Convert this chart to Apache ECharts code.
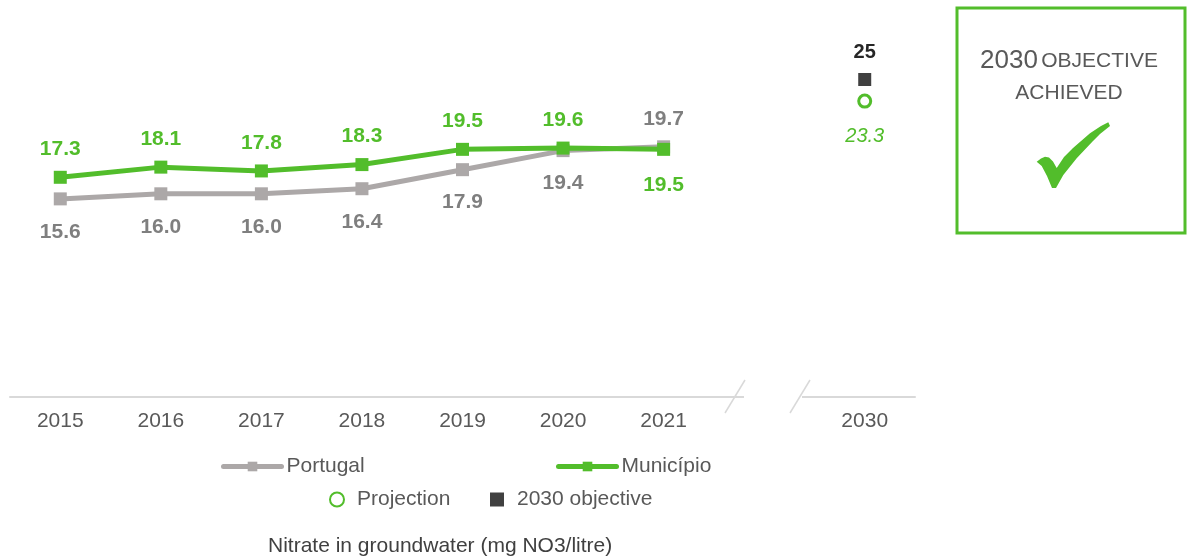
<!DOCTYPE html>
<html>
<head>
<meta charset="utf-8">
<script src="https://cdn.jsdelivr.net/npm/echarts@6/dist/echarts.min.js"></script>
<style>html,body{margin:0;padding:0;background:#fff}#c{width:1187px;height:560px}</style>
</head>
<body>
<div id="c"></div>
<script>
const years = ['2015','2016','2017','2018','2019','2020','2021','','2030'];
const portugal = [15.6, 16.0, 16.0, 16.4, 17.9, 19.4, 19.7, null, null];
const municipio = [17.3, 18.1, 17.8, 18.3, 19.5, 19.6, 19.5, null, null];
const projection = [['2030', 23.3]];
const objective = [['2030', 25]];

const GREEN = '#52BD2B';
const GRAY_LINE = '#ACA8A8';
const GRAY_LABEL = '#7F7F7F';
const FONT = "'Liberation Sans', Arial, sans-serif";

function withLabels(vals, other, distTop, distBottom) {
  return vals.map((v, i) => {
    if (v == null) return v;
    const above = v >= other[i];
    return { value: v, label: { position: above ? 'top' : 'bottom', distance: above ? distTop : distBottom } };
  });
}

const legendText = { color: '#595959', fontSize: 21, fontFamily: FONT };

const chart = echarts.init(document.getElementById('c'));
chart.setOption({
  animation: false,
  textStyle: { fontFamily: FONT },
  grid: { left: 10, right: 272, top: 16, bottom: 163, containLabel: false },
  xAxis: {
    type: 'category', data: years, boundaryGap: true,
    axisTick: { show: false },
    axisLine: { lineStyle: { color: '#D9D9D9', width: 2 } },
    axisLabel: { color: '#595959', fontSize: 21, margin: 14, fontFamily: FONT }
  },
  yAxis: { type: 'value', min: 0, max: 30, show: false, splitLine: { show: false } },
  legend: [
    { data: ['Portugal'], left: 216, top: 451, padding: 5, itemWidth: 58, itemHeight: 12, textStyle: legendText, lineStyle: { width: 5, cap: 'round' } },
    { data: ['Município'], left: 551, top: 451, padding: 5, itemWidth: 58, itemHeight: 12, textStyle: legendText, lineStyle: { width: 5, cap: 'round' } },
    { data: ['Projection'], left: 324, top: 484, padding: 5, itemWidth: 14, itemHeight: 14, textStyle: Object.assign({ padding: [0, 0, 0, 8] }, legendText) },
    { data: ['2030 objective'], left: 485, top: 484, padding: 5, itemWidth: 14, itemHeight: 14, textStyle: Object.assign({ padding: [0, 0, 0, 8] }, legendText) }
  ],
  title: {
    text: 'Nitrate in groundwater (mg NO3/litre)', left: 263, top: 531,
    textStyle: { color: '#404040', fontSize: 21, fontWeight: 'normal', fontFamily: FONT }
  },
  series: [
    {
      name: 'Portugal', type: 'line', data: withLabels(portugal, municipio, 11, 16),
      symbol: 'rect', symbolSize: 13, z: 2,
      lineStyle: { color: GRAY_LINE, width: 5 },
      itemStyle: { color: GRAY_LINE },
      label: { show: true, color: GRAY_LABEL, fontSize: 21, fontWeight: 'bold', fontFamily: FONT, formatter: p => p.value.toFixed(1) }
    },
    {
      name: 'Município', type: 'line', data: withLabels(municipio, portugal, 11, 19),
      symbol: 'rect', symbolSize: 13, z: 3,
      lineStyle: { color: GREEN, width: 5 },
      itemStyle: { color: GREEN },
      label: { show: true, color: GREEN, fontSize: 21, fontWeight: 'bold', fontFamily: FONT, formatter: p => p.value.toFixed(1) }
    },
    {
      name: 'Projection', type: 'scatter', data: projection,
      symbol: 'circle', symbolSize: 12,
      itemStyle: { color: '#fff', borderColor: GREEN, borderWidth: 3, opacity: 1 },
      label: { show: true, position: 'bottom', distance: 18, color: GREEN, fontSize: 20, fontStyle: 'italic', fontFamily: FONT, formatter: p => p.value[1].toFixed(1) }
    },
    {
      name: '2030 objective', type: 'scatter', data: objective,
      symbol: 'rect', symbolSize: 13,
      itemStyle: { color: '#404040', opacity: 1 },
      label: { show: true, position: 'top', distance: 11, color: '#262626', fontSize: 20, fontWeight: 'bold', fontFamily: FONT, formatter: p => String(p.value[1]) }
    }
  ],
  graphic: [
    { type: 'rect', z: 100, shape: { x: 744, y: 389, width: 58, height: 14 }, style: { fill: '#fff' } },
    { type: 'line', z: 101, shape: { x1: 745, y1: 380, x2: 725, y2: 413 }, style: { stroke: '#D9D9D9', lineWidth: 1.5 } },
    { type: 'line', z: 101, shape: { x1: 810, y1: 380, x2: 790, y2: 413 }, style: { stroke: '#D9D9D9', lineWidth: 1.5 } },
    { type: 'rect', z: 100, shape: { x: 957, y: 8, width: 228, height: 225 }, style: { fill: 'none', stroke: GREEN, lineWidth: 3 } },
    {
      type: 'text', z: 101, x: 1069, y: 45,
      style: {
        text: '{a|2030} {b|OBJECTIVE}\n{b|ACHIEVED}', align: 'center', verticalAlign: 'top',
        rich: {
          a: { fontSize: 26, fill: '#595959', fontFamily: FONT, lineHeight: 32 },
          b: { fontSize: 21, fill: '#595959', fontFamily: FONT, lineHeight: 32 }
        }
      }
    },
    {
      type: 'polygon', z: 101,
      shape: { points: [[1036.7,161.7],[1041,158.5],[1045,156.7],[1049,157.5],[1053,161.5],[1056.7,168],[1064,157],[1073,148],[1090,133.3],[1101,126],[1108.3,122.3],[1110,126],[1100,134],[1093,141],[1076.7,158.3],[1063.3,175],[1056,188],[1052,188],[1047,176],[1041.7,166]] },
      style: { fill: GREEN }
    }
  ]
});
</script>
</body>
</html>
